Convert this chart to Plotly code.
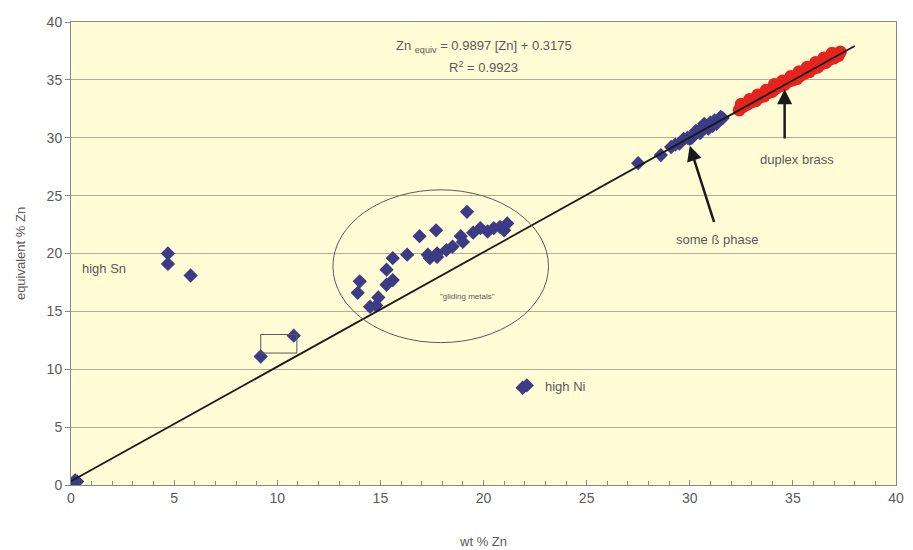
import plotly.graph_objects as go

# ---- data ----
origin_x = [0.1, 0.2, 0.3]
origin_y = [0.2, 0.4, 0.3]

high_sn_x = [4.7, 4.7, 5.8]
high_sn_y = [20.0, 19.1, 18.1]

bracket_x = [9.2, 10.8]
bracket_y = [11.1, 12.9]

high_ni_x = [21.9, 22.1]
high_ni_y = [8.4, 8.6]

gliding_x = [19.2, 17.7, 16.9, 21.15, 20.5, 19.85, 19.5, 18.9, 18.5, 18.2, 17.75, 17.3, 16.3,
             15.6, 15.3, 15.6, 15.3, 14.0, 13.9, 14.9, 14.8, 14.5, 17.75, 20.2, 20.8, 19.0, 17.4, 21.0]
gliding_y = [23.6, 22.0, 21.5, 22.6, 22.2, 22.2, 21.8, 21.5, 20.6, 20.3, 20.0, 19.9, 19.9,
             19.6, 18.6, 17.7, 17.3, 17.6, 16.6, 16.2, 15.5, 15.4, 19.7, 21.9, 22.3, 21.0, 19.6, 22.0]

beta_x = [27.5, 28.6, 29.1, 29.3, 29.5, 29.7, 29.9, 30.0, 30.2, 30.3, 30.5, 30.6, 30.8, 30.9,
          31.0, 31.2, 31.3, 31.5, 31.6, 30.1, 30.7, 31.1]
beta_y = [27.8, 28.5, 29.2, 29.4, 29.5, 29.9, 30.0, 29.9, 30.3, 30.6, 30.4, 30.9, 31.0, 30.8,
          31.3, 31.5, 31.2, 31.8, 31.7, 30.0, 31.2, 31.0]

duplex_x = [32.4, 32.6, 32.8, 33.0, 33.2, 33.4, 33.6, 33.8, 34.0, 34.2, 34.4, 34.6, 34.8, 35.0,
            35.2, 35.4, 35.6, 35.8, 36.0, 36.2, 36.4, 36.6, 36.8, 37.0, 37.2,
            32.5, 32.9, 33.3, 33.7, 34.1, 34.5, 34.9, 35.3, 35.7, 36.1, 36.5, 36.9, 37.3]
duplex_y = [32.4, 32.7, 32.9, 33.1, 33.2, 33.5, 33.6, 33.9, 34.0, 34.3, 34.5, 34.6, 34.9, 35.0,
            35.1, 35.4, 35.6, 35.7, 36.0, 36.1, 36.4, 36.5, 36.8, 36.9, 37.1,
            32.9, 33.3, 33.7, 34.1, 34.6, 34.9, 35.3, 35.7, 36.1, 36.5, 36.9, 37.3, 37.4]

fit_x = [0, 38]
fit_y = [0.32, 37.93]

x_ticks = [0, 5, 10, 15, 20, 25, 30, 35, 40]
y_ticks = [0, 5, 10, 15, 20, 25, 30, 35, 40]

NAVY = "#3b3b86"
RED = "#e5241d"
TXT = "#5a5a5a"
FONT = "Liberation Sans, Arial, sans-serif"

fig = go.Figure()

blue_x = origin_x + high_sn_x + bracket_x + high_ni_x + gliding_x + beta_x
blue_y = origin_y + high_sn_y + bracket_y + high_ni_y + gliding_y + beta_y

fig.add_trace(go.Scatter(x=blue_x, y=blue_y, mode="markers",
                         marker=dict(symbol="diamond", size=11, color=NAVY), showlegend=False))
fig.add_trace(go.Scatter(x=duplex_x, y=duplex_y, mode="markers",
                         marker=dict(symbol="circle", size=13, color=RED), showlegend=False))
fig.add_trace(go.Scatter(x=fit_x, y=fit_y, mode="lines",
                         line=dict(color="#1a1a1a", width=1.8), showlegend=False))

# ellipse around gliding metals
fig.add_shape(type="circle", xref="x", yref="y", x0=12.7, x1=23.15, y0=12.3, y1=25.5,
              line=dict(color="#5a5a5a", width=1))
# bracket rectangle
fig.add_shape(type="rect", xref="x", yref="y", x0=9.2, x1=10.95, y0=11.4, y1=13.0,
              line=dict(color="#5a5a5a", width=1))

# text annotations
fig.add_annotation(x=0.5, y=0.97, xref="paper", yref="paper", showarrow=False,
                   text="Zn <sub>equiv</sub> = 0.9897 [Zn] + 0.3175",
                   font=dict(family=FONT, size=13, color=TXT))
fig.add_annotation(x=0.5, y=0.925, xref="paper", yref="paper", showarrow=False,
                   text="R<sup>2</sup> = 0.9923",
                   font=dict(family=FONT, size=13, color=TXT))
fig.add_annotation(x=0.45, y=18.7, xref="x", yref="y", showarrow=False, xanchor="left",
                   text="high Sn", font=dict(family=FONT, size=13, color=TXT))
fig.add_annotation(x=22.9, y=8.5, xref="x", yref="y", showarrow=False, xanchor="left",
                   text="high Ni", font=dict(family=FONT, size=13, color=TXT))
fig.add_annotation(x=19.2, y=16.3, xref="x", yref="y", showarrow=False,
                   text="\"gliding metals\"", font=dict(family=FONT, size=8, color=TXT))
fig.add_annotation(x=31.3, y=21.2, xref="x", yref="y", showarrow=False,
                   text="some ß phase", font=dict(family=FONT, size=13, color=TXT))
fig.add_annotation(x=35.2, y=28.1, xref="x", yref="y", showarrow=False,
                   text="duplex brass", font=dict(family=FONT, size=13, color=TXT))
# arrows
fig.add_annotation(x=30.0, y=29.3, ax=31.2, ay=22.6, xref="x", yref="y", axref="x", ayref="y",
                   text="", showarrow=True, arrowhead=2, arrowsize=1.2, arrowwidth=2.5,
                   arrowcolor="#1a1a1a")
fig.add_annotation(x=34.6, y=34.2, ax=34.6, ay=29.8, xref="x", yref="y", axref="x", ayref="y",
                   text="", showarrow=True, arrowhead=2, arrowsize=1.2, arrowwidth=2.5,
                   arrowcolor="#1a1a1a")

fig.update_layout(
    width=913, height=550,
    margin=dict(l=63, r=25, t=14, b=73, autoexpand=False),
    paper_bgcolor="white", plot_bgcolor="#fffcd6",
    font=dict(family=FONT, size=13, color=TXT),
)
fig.update_xaxes(range=[0, 40], tickvals=x_ticks, ticktext=[str(v) for v in x_ticks],
                 showgrid=False, zeroline=False, showline=True, linecolor="#8a8a80", linewidth=1,
                 mirror=True, ticks="inside", ticklen=5, tickcolor="#8a8a80",
                 minor=dict(dtick=1, ticks="inside", ticklen=4, tickcolor="#8a8a80"),
                 title=dict(text="wt % Zn", font=dict(size=13, color=TXT), standoff=32),
                 tickfont=dict(size=14, color=TXT), automargin=False)
fig.update_yaxes(range=[0, 40], tickvals=y_ticks, ticktext=[str(v) for v in y_ticks],
                 showgrid=True, gridcolor="#b0ae94", gridwidth=1, zeroline=False,
                 showline=True, linecolor="#8a8a80", linewidth=1, mirror=True,
                 ticks="outside", ticklen=5, tickcolor="#8a8a80",
                 title=dict(text="equivalent % Zn", font=dict(size=13, color=TXT), standoff=18),
                 tickfont=dict(size=14, color=TXT), automargin=False)

fig.write_html("out.html")
